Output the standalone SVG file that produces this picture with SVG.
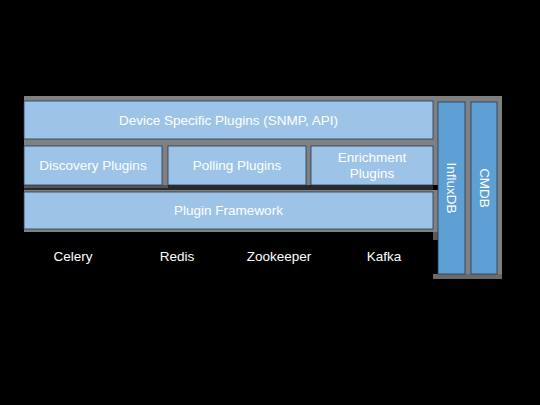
<svg xmlns="http://www.w3.org/2000/svg" width="540" height="405" viewBox="0 0 540 405">
<style>
.sh{fill:#808080}
.box{fill:#9DC3E6;stroke:#1F3B5C;stroke-width:0.8}
.col{fill:#5FA0D4;stroke:#1F3B5C;stroke-width:0.8}
.t{font-family:"Liberation Sans",Arial,sans-serif;font-size:13.5px;fill:#FFFFFF;text-anchor:middle;dominant-baseline:central}
</style>
<rect x="0" y="0" width="540" height="405" fill="#000000"/>
<g id="shadows">
<rect class="sh" x="24" y="96" width="414" height="46"/>
<rect class="sh" x="24" y="141" width="144" height="44"/>
<rect class="sh" x="163" y="141" width="148" height="44"/>
<rect class="sh" x="306" y="141" width="132" height="44"/>
<rect x="24" y="185" width="409" height="7" fill="#2A2A2A"/>
<rect x="24" y="185" width="144" height="3" fill="#555555"/>
<rect class="sh" x="24" y="190" width="414" height="42"/>
<rect x="433" y="232" width="5" height="8" fill="#5A5A5A"/>
<rect class="sh" x="438" y="96" width="33" height="183"/>
<rect class="sh" x="471" y="96" width="31" height="183"/>
<rect x="433" y="274" width="69" height="5" fill="#6A6A6A"/>
</g>
<g id="device-specific-plugins">
<rect class="box" x="24" y="101" width="409" height="38"/>
<text class="t" x="228.5" y="120">Device Specific Plugins (SNMP, API)</text>
</g>
<g id="discovery-plugins">
<rect class="box" x="24" y="146" width="138" height="39"/>
<text class="t" x="93" y="165.5">Discovery Plugins</text>
</g>
<g id="polling-plugins">
<rect class="box" x="168" y="146" width="138" height="39"/>
<text class="t" x="237" y="165.5">Polling Plugins</text>
</g>
<g id="enrichment-plugins">
<rect class="box" x="311" y="146" width="122" height="39"/>
<text class="t" x="372" y="157.5">Enrichment</text>
<text class="t" x="372" y="173.5">Plugins</text>
</g>
<g id="plugin-framework">
<rect class="box" x="24" y="192" width="409" height="37"/>
<text class="t" x="228.5" y="210.5">Plugin Framework</text>
</g>
<g id="influxdb">
<rect class="col" x="438" y="102" width="27" height="172"/>
<text class="t" transform="translate(451.5,188) rotate(90)">InfluxDB</text>
</g>
<g id="cmdb">
<rect class="col" x="471" y="102" width="26" height="172"/>
<text class="t" transform="translate(484,188) rotate(90)">CMDB</text>
</g>
<g id="celery"><text class="t" x="73" y="256">Celery</text></g>
<g id="redis"><text class="t" x="177" y="256">Redis</text></g>
<g id="zookeeper"><text class="t" x="279" y="256">Zookeeper</text></g>
<g id="kafka"><text class="t" x="384" y="256">Kafka</text></g>
<g id="connectors"></g>
</svg>
